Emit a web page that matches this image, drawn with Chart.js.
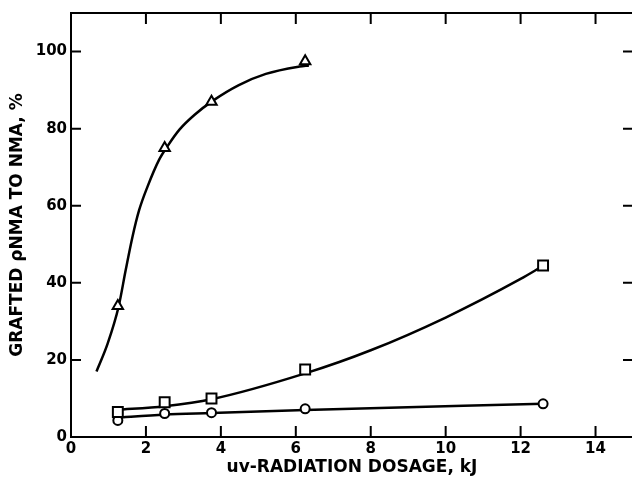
<!DOCTYPE html>
<html>
<head>
<meta charset="utf-8">
<script src="https://cdn.jsdelivr.net/npm/chart.js@4"></script>
<style>
  html, body { margin: 0; padding: 0; background: #fff; }
  #wrap { width: 632px; height: 479px; overflow: hidden; }
</style>
</head>
<body>
<div id="wrap"><canvas id="playground" width="642" height="479"></canvas></div>
<script>
// grafting vs uv dose

const xTicks = [0, 2, 4, 6, 8, 10, 12, 14]
const yTicks = [0, 20, 40, 60, 80, 100]

// measured points
const triX = [1.25, 2.5, 3.75, 6.25]
const triY = [34, 75, 87, 97.5]
const sqX = [1.25, 2.5, 3.75, 6.25, 12.6]
const sqY = [6.5, 9, 10, 17.5, 44.5]
const cirX = [1.25, 2.5, 3.75, 6.25, 12.6]
const cirY = [4.3, 6.1, 6.3, 7.3, 8.6]

// hand-drawn curves
const triFitX = [0.68, 0.98, 1.27, 1.46, 1.64, 1.82, 2.04, 2.35, 2.6, 2.9, 3.3, 3.78, 4.48, 5.2, 6.1, 6.35]
const triFitY = [17, 24.3, 33.8, 43.3, 51.9, 58.9, 64.9, 71.9, 75.8, 79.8, 83.6, 87.2, 91.3, 94.2, 96.1, 96.4]
const sqFitX = [1.2, 2.5, 3.75, 6.25, 8, 10, 12, 12.6]
const sqFitY = [7, 8, 9.8, 16.5, 22.5, 31, 41, 44.4]
const cirFitX = [1.15, 2.5, 3.75, 6.25, 12.6]
const cirFitY = [5, 5.8, 6.2, 7, 8.6]

const pts = (xs, ys) => xs.map((x, i) => ({ x: x, y: ys[i] }))

const tickFont = {
  family: "'DejaVu Sans', sans-serif",
  size: 15,
  weight: 'bold',
}
const titleFont = {
  family: "'DejaVu Sans', sans-serif",
  size: 17,
  weight: 'bold',
}

const markers = (label, xs, ys, style, r) => ({
  label: label,
  data: pts(xs, ys),
  showLine: false,
  pointStyle: style,
  pointRadius: r,
  pointBorderWidth: 2,
  pointBorderColor: '#000',
  pointBackgroundColor: '#fff',
})

const fit = (label, xs, ys) => ({
  label: label,
  data: pts(xs, ys),
  showLine: true,
  pointRadius: 0,
  borderColor: '#000',
  borderWidth: 2.5,
  cubicInterpolationMode: 'monotone',
})

// inside tick marks, top frame line
const frameTicks = {
  id: 'frameTicks',
  afterDraw(chart) {
    const c = chart.ctx
    const a = chart.chartArea
    const xs = chart.scales.x
    const ys = chart.scales.y
    c.save()
    c.strokeStyle = '#000'
    c.lineWidth = 2
    c.beginPath()
    c.moveTo(a.left, a.top)
    c.lineTo(a.right, a.top)
    for (const v of xTicks) {
      const px = xs.getPixelForValue(v)
      if (v > 0) {
        c.moveTo(px, a.bottom)
        c.lineTo(px, a.bottom - 11)
        c.moveTo(px, a.top)
        c.lineTo(px, a.top + 11)
      }
    }
    for (const v of yTicks) {
      const py = ys.getPixelForValue(v)
      if (v > 0) {
        c.moveTo(a.left, py)
        c.lineTo(a.left + 10, py)
        c.moveTo(a.right, py)
        c.lineTo(a.right - 10, py)
      }
    }
    c.stroke()
    c.restore()
  },
}

const ctx = document.getElementById('playground').getContext('2d')
const myChart = new Chart(ctx, {
  type: 'scatter',
  data: {
    datasets: [
      markers('triangles', triX, triY, 'triangle', 6),
      markers('squares', sqX, sqY, 'rect', 7),
      markers('circles', cirX, cirY, 'circle', 4.5),
      fit('triangle fit', triFitX, triFitY),
      fit('square fit', sqFitX, sqFitY),
      fit('circle fit', cirFitX, cirFitY),
    ],
  },
  options: {
    responsive: false,
    animation: false,
    layout: { padding: { left: 0, top: 13, right: 4, bottom: 0 } },
    scales: {
      x: {
        type: 'linear',
        min: 0,
        max: 15,
        afterBuildTicks: (s) => { s.ticks = xTicks.map((v) => ({ value: v })) },
        afterFit: (s) => { s.height = 42 },
        grid: { display: false, drawTicks: false },
        border: { display: true, color: '#000', width: 2 },
        ticks: { color: '#000', padding: 3, font: tickFont, maxRotation: 0 },
        title: {
          display: true,
          text: 'uv-RADIATION DOSAGE, kJ',
          color: '#000',
          font: titleFont,
          padding: { top: 0, bottom: 1 },
        },
      },
      y: {
        min: 0,
        max: 110,
        afterBuildTicks: (s) => { s.ticks = yTicks.map((v) => ({ value: v })) },
        afterFit: (s) => { s.width = 71 },
        grid: { display: false, drawTicks: false },
        border: { display: true, color: '#000', width: 2 },
        ticks: { color: '#000', padding: 4, font: tickFont },
        title: {
          display: true,
          text: 'GRAFTED \u03c1NMA TO NMA, %',
          color: '#000',
          font: titleFont,
          padding: { top: 7, bottom: 0 },
        },
      },
    },
    plugins: {
      legend: { display: false },
      tooltip: { enabled: false },
    },
  },
  plugins: [frameTicks],
})
</script>
</body>
</html>
